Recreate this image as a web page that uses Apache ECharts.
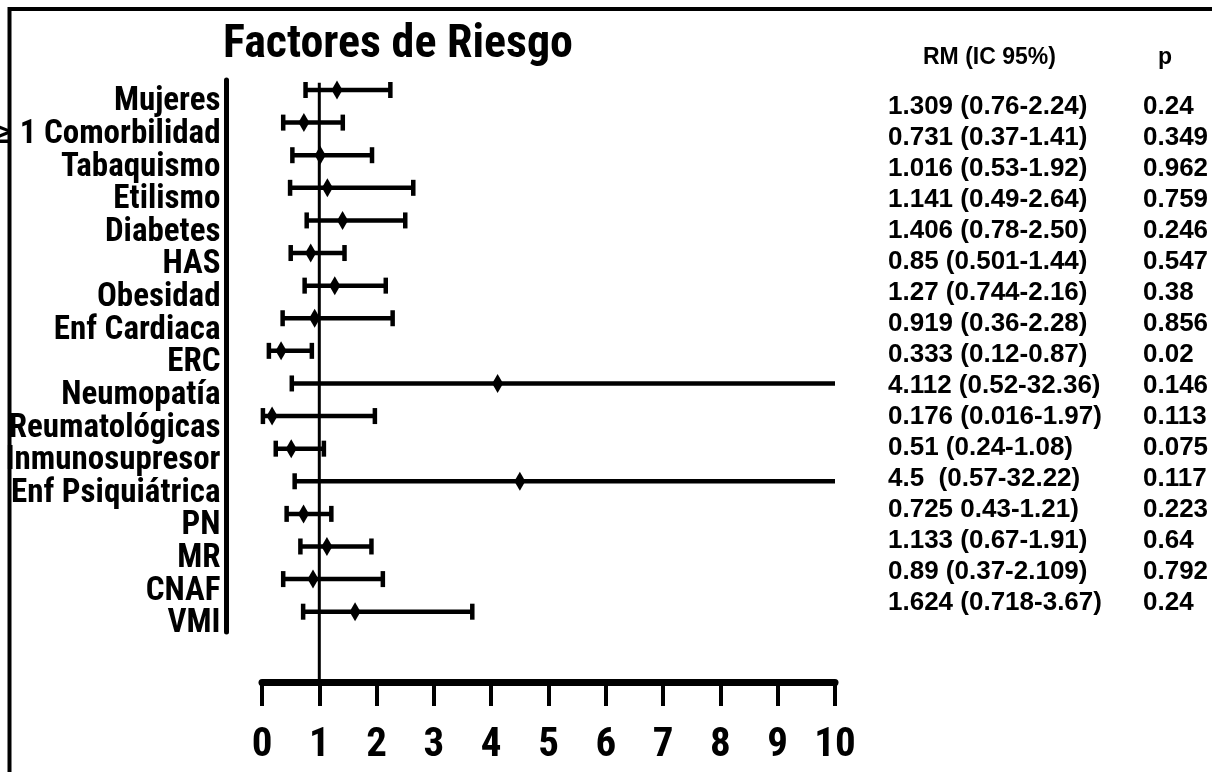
<!DOCTYPE html>
<html>
<head>
<meta charset="utf-8">
<script src="https://cdn.jsdelivr.net/npm/echarts@6/dist/echarts.min.js"></script>
<style>
html,body{margin:0;padding:0;background:#fff;}
#chart{width:1212px;height:772px;}
</style>
</head>
<body>
<div id="chart"></div>
<script>
// ---- data ----
var categories = ['Mujeres', '\u2265 1 Comorbilidad', 'Tabaquismo', 'Etilismo', 'Diabetes', 'HAS', 'Obesidad', 'Enf Cardiaca', 'ERC', 'Neumopatía', 'Reumatológicas', 'Inmunosupresor', 'Enf Psiquiátrica', 'PN', 'MR', 'CNAF', 'VMI'];
var oddsRatio = [1.309, 0.731, 1.016, 1.141, 1.406, 0.85, 1.27, 0.919, 0.333, 4.112, 0.176, 0.51, 4.5, 0.725, 1.133, 0.89, 1.624];
var ciLower = [0.76, 0.37, 0.53, 0.49, 0.78, 0.501, 0.744, 0.36, 0.12, 0.52, 0.016, 0.24, 0.57, 0.43, 0.67, 0.37, 0.718];
var ciUpper = [2.24, 1.41, 1.92, 2.64, 2.50, 1.44, 2.16, 2.28, 0.87, 32.36, 1.97, 1.08, 32.22, 1.21, 1.91, 2.109, 3.67];
var rmTexts = ['1.309 (0.76-2.24)', '0.731 (0.37-1.41)', '1.016 (0.53-1.92)', '1.141 (0.49-2.64)', '1.406 (0.78-2.50)', '0.85 (0.501-1.44)', '1.27 (0.744-2.16)', '0.919 (0.36-2.28)', '0.333 (0.12-0.87)', '4.112 (0.52-32.36)', '0.176 (0.016-1.97)', '0.51 (0.24-1.08)', '4.5  (0.57-32.22)', '0.725 0.43-1.21)', '1.133 (0.67-1.91)', '0.89 (0.37-2.109)', '1.624 (0.718-3.67)'];
var pTexts = ['0.24', '0.349', '0.962', '0.759', '0.246', '0.547', '0.38', '0.856', '0.02', '0.146', '0.113', '0.075', '0.117', '0.223', '0.64', '0.792', '0.24'];
var xMin = 0, xMax = 10, xInterval = 1;
var referenceValue = 1;

// ---- build ----
var narrow = "'Roboto Condensed', 'Liberation Sans Narrow', 'DejaVu Sans Condensed', sans-serif";
var sans = "'Liberation Sans', Arial, Helvetica, sans-serif";
var titleText = 'Factores de Riesgo';
var titleSize = 46;
var ctx = document.createElement('canvas').getContext('2d');
ctx.font = 'bold ' + titleSize + 'px ' + narrow;
var titleW = ctx.measureText(titleText).width;

var xAxisOffset = 54;
var errData = categories.map(function (c, i) { return [i, ciLower[i], ciUpper[i]]; });
var pointData = categories.map(function (c, i) { return [oddsRatio[i], i]; });

var chart = echarts.init(document.getElementById('chart'), null, {renderer: 'canvas'});
chart.setOption({
  backgroundColor: '#fff',
  animation: false,
  title: [
    {text: titleText, left: Math.round(398 - titleW / 2), top: 22, padding: 0,
     textStyle: {fontFamily: narrow, fontWeight: 'bold', fontSize: titleSize, color: '#000'}},
    {text: 'RM (IC 95%)', left: 923, top: 46, padding: 0,
     textStyle: {fontFamily: sans, fontWeight: 'bold', fontSize: 23, color: '#000'}},
    {text: 'p', left: 1158, top: 46, padding: 0,
     textStyle: {fontFamily: sans, fontWeight: 'bold', fontSize: 23, color: '#000'}}
  ],
  graphic: [
    {type: 'rect', shape: {x: 9.5, y: 9, width: 1300, height: 900},
     style: {fill: 'none', stroke: '#000', lineWidth: 4}, silent: true}
  ],
  grid: [
    // plot area
    {left: 262, right: 377, top: 73.7, bottom: 144, outerBoundsMode: 'none'},
    // category labels
    {left: 262, right: 377, top: 85.9, height: 554.3, outerBoundsMode: 'none'},
    // vertical axis bar
    {left: 262, right: 377, top: 80, height: 552, outerBoundsMode: 'none'},
    // table columns
    {left: 888, width: 240, top: 91.2, height: 527, outerBoundsMode: 'none'},
    {left: 1143, width: 60, top: 91.2, height: 527, outerBoundsMode: 'none'}
  ],
  xAxis: [
    {type: 'value', gridIndex: 0, min: xMin, max: xMax, interval: xInterval, offset: xAxisOffset,
     axisLine: {show: true, lineStyle: {color: '#000', width: 7}},
     axisTick: {show: true, length: 24, lineStyle: {color: '#000', width: 4}},
     axisLabel: {margin: 43, color: '#000', fontFamily: narrow, fontWeight: 'bold', fontSize: 41},
     splitLine: {show: false}},
    {type: 'value', gridIndex: 1, show: false},
    {type: 'value', gridIndex: 2, show: false},
    {type: 'value', gridIndex: 3, show: false},
    {type: 'value', gridIndex: 4, show: false}
  ],
  yAxis: [
    {type: 'category', gridIndex: 0, data: categories, inverse: true, show: false},
    {type: 'category', gridIndex: 1, data: categories, inverse: true, offset: 35.5,
     axisLine: {show: false, onZero: false},
     axisTick: {show: false},
     axisLabel: {interval: 0, margin: 6, color: '#000', fontFamily: narrow, fontWeight: 'bold', fontSize: 33},
     splitLine: {show: false}},
    {type: 'category', gridIndex: 2, data: categories, inverse: true, offset: 35.5,
     axisLine: {show: true, onZero: false, lineStyle: {color: '#000', width: 5}},
     axisTick: {show: false}, axisLabel: {show: false}, splitLine: {show: false}},
    {type: 'category', gridIndex: 3, data: rmTexts, inverse: true,
     axisLine: {show: false}, axisTick: {show: false},
     axisLabel: {interval: 0, inside: true, margin: 0, align: 'left', color: '#000', fontFamily: sans, fontWeight: 'bold', fontSize: 26}},
    {type: 'category', gridIndex: 4, data: pTexts, inverse: true,
     axisLine: {show: false}, axisTick: {show: false},
     axisLabel: {interval: 0, inside: true, margin: 0, align: 'left', color: '#000', fontFamily: sans, fontWeight: 'bold', fontSize: 26}}
  ],
  series: [
    {type: 'custom', xAxisIndex: 0, yAxisIndex: 0, clip: false, silent: true,
     data: [[referenceValue]],
     encode: {x: 0},
     renderItem: function (params, api) {
       var x = api.coord([api.value(0), 0])[0];
       var cs = params.coordSys;
       return {type: 'line', shape: {x1: x, y1: cs.y + 9, x2: x, y2: cs.y + cs.height + xAxisOffset},
               style: {stroke: '#000', lineWidth: 3}};
     }},
    {type: 'custom', xAxisIndex: 0, yAxisIndex: 0, silent: true, clip: false,
     data: errData,
     encode: {x: [1, 2], y: 0},
     renderItem: function (params, api) {
       var yi = api.value(0), lo = api.value(1), hi = api.value(2);
       var p1 = api.coord([Math.max(lo, xMin), yi]);
       var p2 = api.coord([Math.min(hi, xMax), yi]);
       var cap = 8;
       var st = {stroke: '#000', lineWidth: 4.5};
       var children = [
         {type: 'line', shape: {x1: p1[0], y1: p1[1], x2: p2[0], y2: p2[1]}, style: st}
       ];
       if (lo >= xMin) children.push({type: 'line', shape: {x1: p1[0], y1: p1[1] - cap, x2: p1[0], y2: p1[1] + cap}, style: st});
       if (hi <= xMax) children.push({type: 'line', shape: {x1: p2[0], y1: p2[1] - cap, x2: p2[0], y2: p2[1] + cap}, style: st});
       return {type: 'group', children: children};
     }},
    {type: 'scatter', xAxisIndex: 0, yAxisIndex: 0, silent: true,
     data: pointData, symbol: 'diamond', symbolSize: [11, 19],
     itemStyle: {color: '#000', opacity: 1}}
  ]
});
</script>
</body>
</html>
